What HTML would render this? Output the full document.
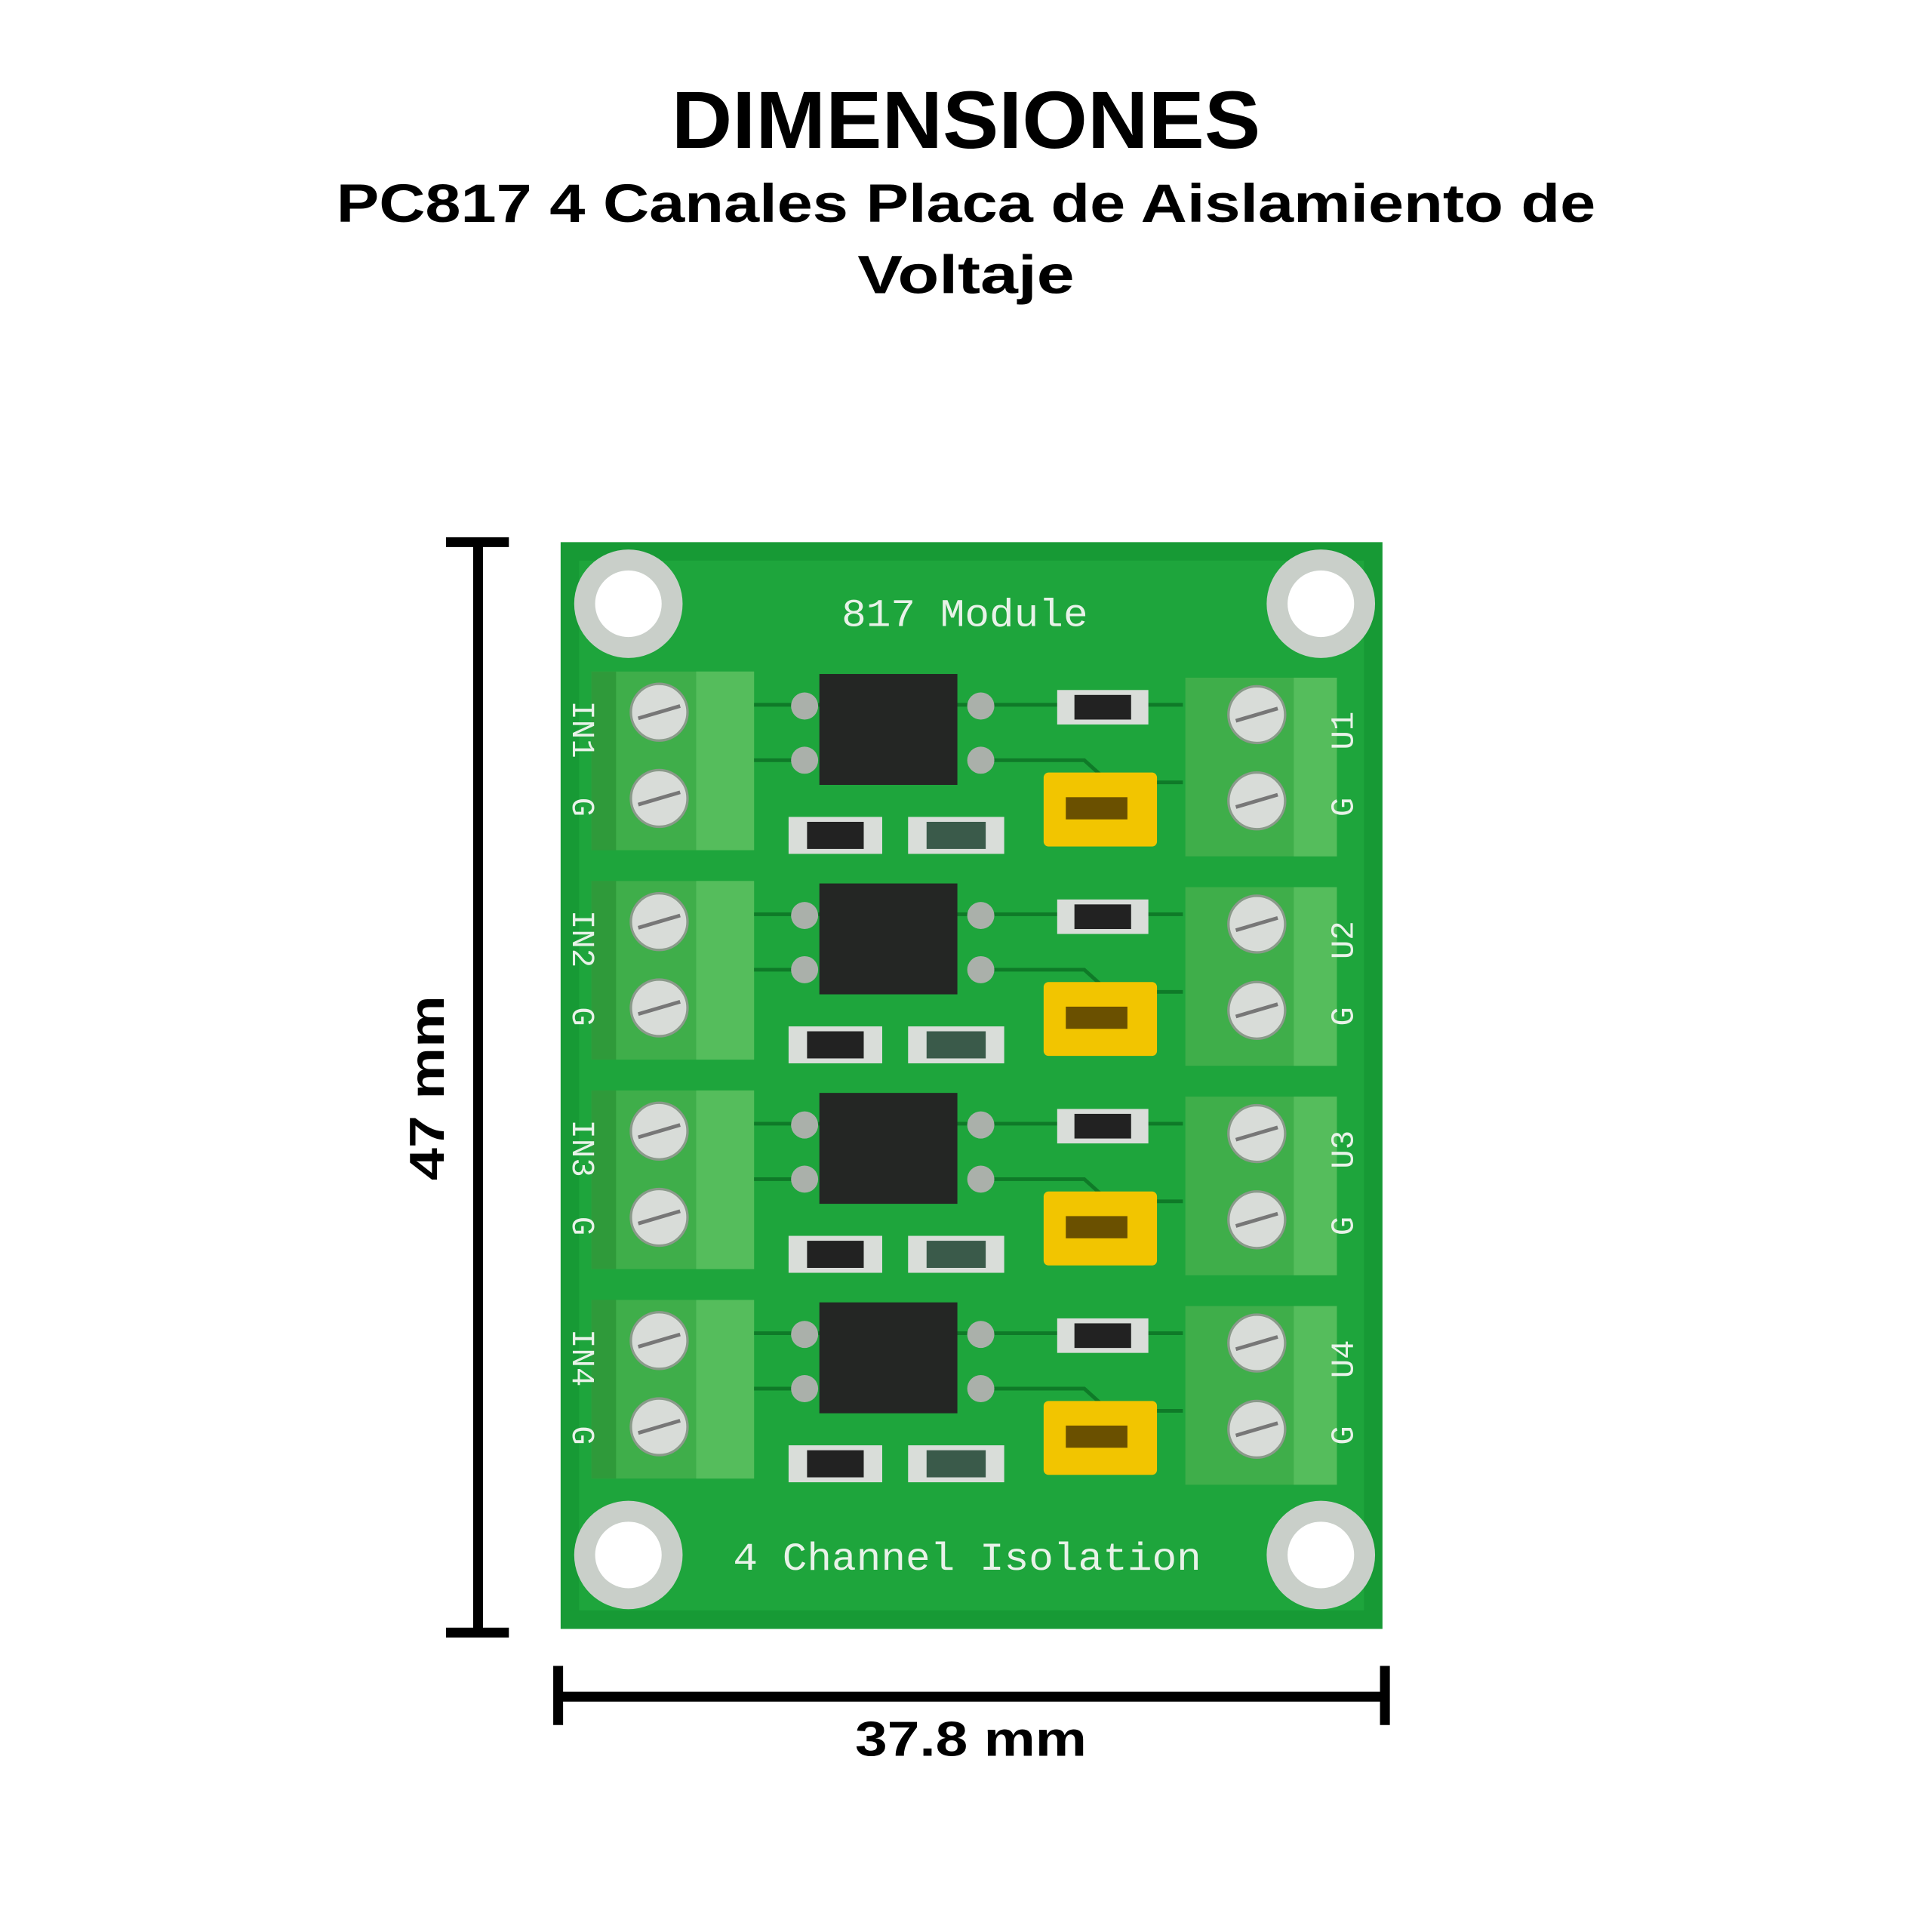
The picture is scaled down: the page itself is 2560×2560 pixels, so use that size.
<!DOCTYPE html>
<html><head><meta charset="utf-8"><style>
html,body{margin:0;padding:0;background:#fff}
svg{display:block}
</style></head><body>
<svg width="2560" height="2560" viewBox="0 0 1568 1568" xmlns="http://www.w3.org/2000/svg">
<rect width="1568" height="1568" fill="#fff"/>
<g font-family="'Liberation Sans',sans-serif" font-weight="bold" fill="#000" text-anchor="middle">
<text x="784" y="120" font-size="66" textLength="478" lengthAdjust="spacingAndGlyphs">DIMENSIONES</text>
<text x="784" y="180" font-size="44" textLength="1022" lengthAdjust="spacingAndGlyphs">PC817 4 Canales Placa de Aislamiento de</text>
<text x="784" y="238" font-size="44" textLength="176" lengthAdjust="spacingAndGlyphs">Voltaje</text>
<text x="788" y="1425" font-size="40" textLength="188" lengthAdjust="spacingAndGlyphs">37.8 mm</text>
<text transform="translate(360,883) rotate(-90)" font-size="40" textLength="150" lengthAdjust="spacingAndGlyphs">47 mm</text>
</g>
<g stroke="#000" stroke-width="8" fill="none">
<line x1="388" y1="440" x2="388" y2="1325"/>
<line x1="362" y1="440" x2="413" y2="440"/>
<line x1="362" y1="1325" x2="413" y2="1325"/>
<line x1="453" y1="1377" x2="1124" y2="1377"/>
<line x1="453" y1="1352" x2="453" y2="1400"/>
<line x1="1124" y1="1352" x2="1124" y2="1400"/>
</g>
<rect x="455" y="440" width="667" height="882" fill="#179a35"/>
<rect x="470" y="455" width="637" height="852" fill="#1ea53c"/>
<g>
<circle cx="510" cy="490" r="44" fill="#c9cfc9"/><circle cx="510" cy="490" r="27" fill="#fff"/>
<circle cx="1072" cy="490" r="44" fill="#c9cfc9"/><circle cx="1072" cy="490" r="27" fill="#fff"/>
<circle cx="510" cy="1262" r="44" fill="#c9cfc9"/><circle cx="510" cy="1262" r="27" fill="#fff"/>
<circle cx="1072" cy="1262" r="44" fill="#c9cfc9"/><circle cx="1072" cy="1262" r="27" fill="#fff"/>
</g>
<g font-family="'Liberation Mono',monospace" fill="#e8f2e8" text-anchor="middle">
<text x="783" y="508" font-size="32" textLength="200" lengthAdjust="spacingAndGlyphs">817 Module</text>
<text x="785" y="1274" font-size="32" textLength="380" lengthAdjust="spacingAndGlyphs">4 Channel Isolation</text>
</g>
<defs>
<g id="row">
<rect x="480" y="0" width="132" height="145" fill="#3fae4a"/>
<rect x="565" y="0" width="47" height="145" fill="#55bd5c"/>
<rect x="480" y="0" width="20" height="145" fill="#2f9a3a"/>
<circle cx="535" cy="33" r="23" fill="#d8dcd8" stroke="#8a9a8a" stroke-width="2"/>
<line x1="518" y1="38" x2="552" y2="28" stroke="#777" stroke-width="3"/>
<circle cx="535" cy="103" r="23" fill="#d8dcd8" stroke="#8a9a8a" stroke-width="2"/>
<line x1="518" y1="108" x2="552" y2="98" stroke="#777" stroke-width="3"/>
<rect x="962" y="5" width="123" height="145" fill="#3fae4a"/>
<rect x="1050" y="5" width="35" height="145" fill="#55bd5c"/>
<circle cx="1020" cy="35" r="23" fill="#d8dcd8" stroke="#8a9a8a" stroke-width="2"/>
<line x1="1003" y1="40" x2="1037" y2="30" stroke="#777" stroke-width="3"/>
<circle cx="1020" cy="105" r="23" fill="#d8dcd8" stroke="#8a9a8a" stroke-width="2"/>
<line x1="1003" y1="110" x2="1037" y2="100" stroke="#777" stroke-width="3"/>
<g stroke="#0f7a28" stroke-width="3" fill="none">
<line x1="612" y1="27" x2="960" y2="27"/>
<path d="M795 72 L880 72 L900 90 L960 90"/>
<path d="M612 72 L650 72"/>
</g>
<circle cx="653" cy="28" r="11" fill="#aab0aa"/><circle cx="653" cy="72" r="11" fill="#aab0aa"/>
<circle cx="796" cy="28" r="11" fill="#aab0aa"/><circle cx="796" cy="72" r="11" fill="#aab0aa"/>
<rect x="665" y="2" width="112" height="90" fill="#242624"/>
<rect x="858" y="15" width="74" height="28" fill="#d9ddd9"/><rect x="872" y="19" width="46" height="20" fill="#222"/>
<rect x="640" y="118" width="76" height="30" fill="#d9ddd9"/><rect x="655" y="122" width="46" height="22" fill="#222"/>
<rect x="737" y="118" width="78" height="30" fill="#d9ddd9"/><rect x="752" y="122" width="48" height="22" fill="#3a5a4a"/>
<rect x="847" y="82" width="92" height="60" rx="4" fill="#f2c500"/>
<rect x="865" y="102" width="50" height="18" fill="#6a5000"/>
</g>
</defs>
<use href="#row" y="545"/>
<use href="#row" y="715"/>
<use href="#row" y="885"/>
<use href="#row" y="1055"/>
<g font-family="'Liberation Mono',monospace" font-size="26" fill="#e8f2e8" text-anchor="middle">
<text transform="translate(1098,593) rotate(-90)">U1</text>
<text transform="translate(1098,763) rotate(-90)">U2</text>
<text transform="translate(1098,933) rotate(-90)">U3</text>
<text transform="translate(1098,1103) rotate(-90)">U4</text>
<text transform="translate(1098,655) rotate(-90)">G</text>
<text transform="translate(1098,825) rotate(-90)">G</text>
<text transform="translate(1098,995) rotate(-90)">G</text>
<text transform="translate(1098,1165) rotate(-90)">G</text>
<text transform="translate(465,592) rotate(90)">IN1</text>
<text transform="translate(465,762) rotate(90)">IN2</text>
<text transform="translate(465,932) rotate(90)">IN3</text>
<text transform="translate(465,1102) rotate(90)">IN4</text>
<text transform="translate(465,655) rotate(90)">G</text>
<text transform="translate(465,825) rotate(90)">G</text>
<text transform="translate(465,995) rotate(90)">G</text>
<text transform="translate(465,1165) rotate(90)">G</text>
</g>
</svg>
</body></html>
